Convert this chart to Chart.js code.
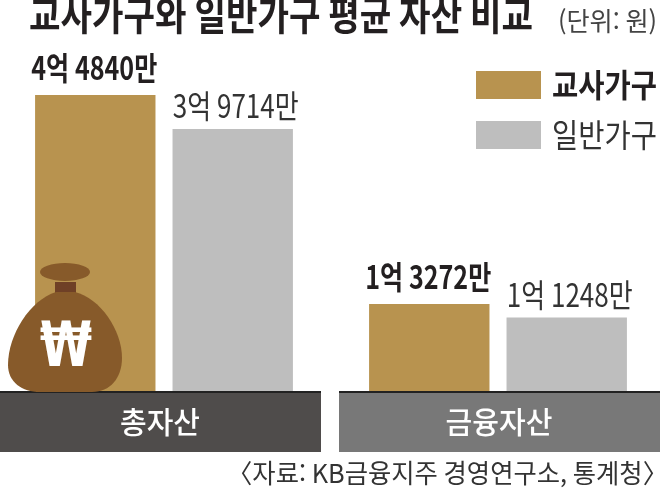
<!DOCTYPE html>
<html lang="ko">
<head>
<meta charset="utf-8">
<title>교사가구와 일반가구 평균 자산 비교</title>
<script src="https://cdn.jsdelivr.net/npm/chart.js@4/dist/chart.umd.min.js"></script>
<style>
    html, body { margin: 0; padding: 0; background: #fff; overflow: hidden; }
    #chart { position: absolute; left: -3px; top: 0; }
</style>
</head>
<body>
<canvas id="chart" width="668" height="494"></canvas>
<script>
const categories = ['총자산', '금융자산'];
const seriesNames = ['교사가구', '일반가구'];
// 단위: 만원
const teacherValues = [44840, 13272];
const generalValues = [39714, 11248];
const teacherLabels = ['4억 4840만', '1억 3272만'];
const generalLabels = ['3억 9714만', '1억 1248만'];

const titleText = '교사가구와 일반가구 평균 자산 비교';
const unitText = '(단위: 원)';
const sourceText = '〈자료: KB금융지주 경영연구소, 통계청〉';

const GOLD = '#b8934f';
const GRAY = '#bebebe';
const KR = '"Noto Sans CJK KR", "Noto Sans", sans-serif';

function text(ctx, str, x, y, font, color, align, maxWidth) {
    ctx.font = font;
    ctx.fillStyle = color;
    ctx.textAlign = align || 'left';
    ctx.textBaseline = 'middle';
    ctx.fillText(str, x, y, maxWidth);
}

// 돈주머니 그림 (장식)
function drawBag(ctx) {
    ctx.fillStyle = '#6f4026';
    ctx.fillRect(55, 282, 21, 12);
    ctx.fillStyle = '#875a2a';
    ctx.beginPath();
    ctx.ellipse(65, 272, 25, 9, 0, 0, Math.PI * 2);
    ctx.fill();
    ctx.beginPath();
    ctx.moveTo(56, 292);
    ctx.bezierCurveTo(30, 300, 8, 335, 8, 365);
    ctx.bezierCurveTo(8, 382, 22, 392, 40, 392);
    ctx.lineTo(92, 392);
    ctx.bezierCurveTo(110, 392, 122, 378, 122, 358);
    ctx.bezierCurveTo(122, 330, 100, 298, 75, 292);
    ctx.closePath();
    ctx.fill();
    text(ctx, '₩', 66, 350, 'bold 62px "DejaVu Sans", sans-serif', '#fff', 'center', 52);
}

const decoration = {
    id: 'decoration',
    afterDatasetsDraw(chart) {
        const ctx = chart.ctx;
        ctx.save();
        ctx.translate(3, 0); // 캔버스가 왼쪽으로 3px 밀려 있음

        // 항목 띠
        const bands = [[0, 321, '#4f4c4b', 160], [339, 321, '#787878', 499]];
        bands.forEach((b, i) => {
            ctx.fillStyle = b[2];
            ctx.fillRect(b[0], 392, b[1], 60);
            ctx.fillStyle = '#222';
            ctx.fillRect(b[0], 391, b[1], 2);
            text(ctx, categories[i], b[3], 422, '500 30px ' + KR, '#fff', 'center', i ? 107 : 80);
        });

        drawBag(ctx);

        // 막대 위 값 표시
        const m0 = chart.getDatasetMeta(0).data;
        const m1 = chart.getDatasetMeta(1).data;
        categories.forEach((c, i) => {
            text(ctx, teacherLabels[i], m0[i].x - 4, m0[i].y - 27, 'bold 32px ' + KR, '#231f20', 'center', 126);
            text(ctx, generalLabels[i], m1[i].x, m1[i].y - 23, '400 32px ' + KR, '#333', 'center', 126);
        });

        // 범례
        ctx.fillStyle = GOLD;
        ctx.fillRect(476, 71, 65, 28);
        ctx.fillStyle = GRAY;
        ctx.fillRect(476, 121, 65, 28);
        text(ctx, seriesNames[0], 552, 85, 'bold 32px ' + KR, '#231f20', 'left', 105);
        text(ctx, seriesNames[1], 552, 135, '400 32px ' + KR, '#333', 'left', 105);

        // 제목, 단위, 출처
        text(ctx, titleText, 29, 15, 'bold 40px ' + KR, '#231f20', 'left', 504);
        text(ctx, unitText, 558, 21, '400 26px ' + KR, '#444', 'left', 99);
        text(ctx, sourceText, 227, 473, '400 26px ' + KR, '#333', 'left', 441);
        ctx.restore();
    }
};

new Chart(document.getElementById('chart'), {
    type: 'bar',
    data: {
        labels: categories,
        datasets: [
            { label: seriesNames[0], data: teacherValues, backgroundColor: GOLD },
            { label: seriesNames[1], data: generalValues, backgroundColor: GRAY }
        ]
    },
    options: {
        responsive: false,
        animation: false,
        categoryPercentage: 0.823,
        barPercentage: 0.876,
        layout: { padding: { top: 0, right: 0, bottom: 102, left: 0 } },
        plugins: { legend: { display: false }, tooltip: { enabled: false } },
        scales: {
            x: { display: false },
            y: { display: false, min: 0, max: 59200 }
        }
    },
    plugins: [decoration]
});
</script>
</body>
</html>
